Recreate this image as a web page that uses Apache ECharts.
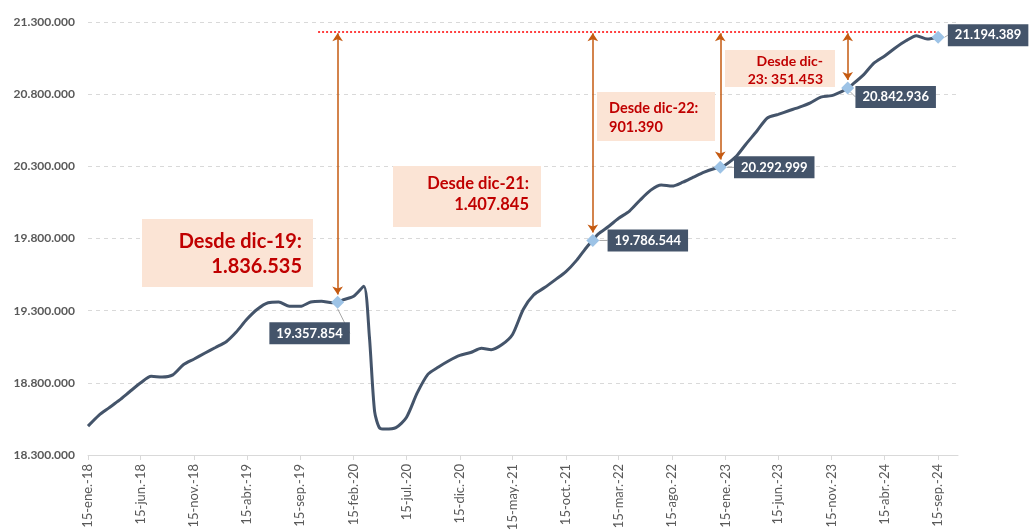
<!DOCTYPE html>
<html>
<head>
<meta charset="utf-8">
<script src="https://cdn.jsdelivr.net/npm/echarts@6/dist/echarts.min.js"></script>
<style>
  html, body { margin: 0; padding: 0; background: #fff; }
  #main { width: 1029px; height: 532px; }
</style>
</head>
<body>
<div id="main"></div>
<script>
const meses = ['ene.', 'feb.', 'mar.', 'abr.', 'may.', 'jun.', 'jul.', 'ago.', 'sep.', 'oct.', 'nov.', 'dic.'];

// etiquetas del eje X (una cada 5 meses)
const etiquetasX = ['15-ene.-18', '15-jun.-18', '15-nov.-18', '15-abr.-19', '15-sep.-19', '15-feb.-20',
  '15-jul.-20', '15-dic.-20', '15-may.-21', '15-oct.-21', '15-mar.-22', '15-ago.-22', '15-ene.-23',
  '15-jun.-23', '15-nov.-23', '15-abr.-24', '15-sep.-24'];

// afiliados el día 15 de cada mes, desde ene-18 hasta sep-24
const afiliados15 = [
  18500000, 18575000, 18625000, 18680000, 18740000, 18800000, 18845000, 18840000, 18855000, 18925000, 18965000, 19005000,
  19045000, 19085000, 19150000, 19240000, 19310000, 19355000, 19360000, 19330000, 19330000, 19360000, 19365000, 19355000,
  19375000, 19400000, 19470000, 18600000, 18480000, 18490000, 18560000, 18730000, 18860000, 18910000, 18955000, 18990000,
  19010000, 19040000, 19030000, 19065000, 19135000, 19310000, 19410000, 19460000, 19515000, 19570000, 19650000, 19745000,
  19830000, 19885000, 19940000, 19990000, 20065000, 20135000, 20170000, 20163000, 20190000, 20225000, 20260000, 20285000,
  20310000, 20370000, 20455000, 20545000, 20635000, 20660000, 20685000, 20710000, 20740000, 20780000, 20790000, 20820000,
  20870000, 20935000, 21015000, 21065000, 21120000, 21170000, 21205000, 21182000, 21194389
];

// último día de algunos meses [año, mes, valor]
const finDeMes = [
  [2019, 12, 19357854],
  [2020, 3, 19120000],
  [2020, 4, 18485000],
  [2021, 12, 19786544],
  [2022, 12, 20292999],
  [2023, 12, 20842936]
];

// puntos destacados [año, mes, día, valor]
const hitos = [
  [2019, 12, 31, 19357854],
  [2021, 12, 31, 19786544],
  [2022, 12, 31, 20292999],
  [2023, 12, 31, 20842936],
  [2024, 9, 15, 21194389]
];

const fmt = n => String(Math.round(n)).replace(/\B(?=(\d{3})+(?!\d))/g, '.');
const ms = (y, m, d) => new Date(y, m - 1, d).getTime();

const serie = afiliados15.map((v, i) => [ms(2018 + Math.floor(i / 12), i % 12 + 1, 15), v]);
finDeMes.forEach(([y, m, v]) => serie.push([ms(y, m + 1, 0), v]));
serie.sort((a, b) => a[0] - b[0]);

const ticksX = etiquetasX.map(s => {
  const p = s.split('-');
  return ms(2000 + Number(p[2]), meses.indexOf(p[1]) + 1, Number(p[0]));
});

const ultimo = hitos[hitos.length - 1];
const techo = 21235000;
const puntaFlecha = 21222000;
const separacion = 55000;

// desplazamiento de cada etiqueta de dato respecto al rombo
const desplaz = [[-28, 31], [55, 0], [54, 0], [48, 9], [50, -2]];

const chart = echarts.init(document.getElementById('main'));

const cajas = [
  { x: 142, y: 219, w: 171, h: 68, tx: 302, ty: 229, align: 'right', size: 20, lh: 25, i: 0, corte: false },
  { x: 393, y: 166, w: 148, h: 61, tx: 529, ty: 173, align: 'right', size: 16.5, lh: 21, i: 1, corte: false },
  { x: 597, y: 92, w: 118, h: 49, tx: 609, ty: 99, align: 'left', size: 14.5, lh: 19, i: 2, corte: false },
  { x: 725, y: 50, w: 110, h: 37, tx: 823, ty: 52, align: 'right', size: 14, lh: 18, i: 3, corte: true }
];

const graphic = [];
cajas.forEach(c => {
  const h = hitos[c.i];
  const etiqueta = 'dic-' + String(h[0]).slice(2);
  const dif = fmt(ultimo[3] - h[3]);
  const txt = c.corte ? 'Desde ' + etiqueta.slice(0, 4) + '\n' + etiqueta.slice(4) + ': ' + dif
                      : 'Desde ' + etiqueta + ':\n' + dif;
  graphic.push({
    type: 'rect', z: 1, shape: { x: c.x, y: c.y, width: c.w, height: c.h },
    style: { fill: '#FBE4D5' }, silent: true
  });
  graphic.push({
    type: 'text', z: 2, x: c.tx, y: c.ty, silent: true,
    style: {
      text: txt, align: c.align, verticalAlign: 'top', fill: '#C00000',
      font: 'bold ' + c.size + 'px Lato', lineHeight: c.lh
    }
  });
});

const rojo = { color: '#FF0000', type: [2, 2], width: 1.5, opacity: 1 };

chart.setOption({
  animation: false,
  grid: { left: 88, right: 71, top: 22, bottom: 77, outerBoundsMode: 'none' },
  xAxis: {
    type: 'value',
    min: ms(2018, 1, 15),
    max: ms(2024, 11, 11),
    axisLine: { lineStyle: { color: '#D9D9D9', width: 1 } },
    axisTick: { show: true, customValues: ticksX, length: 5, lineStyle: { color: '#D9D9D9' } },
    axisLabel: {
      customValues: ticksX, rotate: 90, margin: 9, color: '#595959',
      fontFamily: 'Lato', fontSize: 13,
      formatter: v => etiquetasX[ticksX.indexOf(v)] || ''
    },
    splitLine: { show: false }
  },
  yAxis: {
    type: 'value', min: 18300000, max: 21300000, interval: 500000,
    axisLine: { show: false }, axisTick: { show: false },
    axisLabel: { formatter: v => fmt(v), color: '#595959', fontFamily: 'Lato', fontSize: 12, fontWeight: 'bold', margin: 13 },
    splitLine: { lineStyle: { color: '#D9D9D9', type: [4, 4], width: 1 } }
  },
  graphic: graphic,
  series: [
    {
      name: 'Afiliados', type: 'line', data: serie, showSymbol: false, smooth: 0.25, z: 2,
      lineStyle: { color: '#44546A', width: 3 },
      markLine: {
        silent: true, symbol: 'none', label: { show: false },
        lineStyle: rojo,
        data: [[
          { coord: [ms(2019, 11, 5), techo], lineStyle: rojo },
          { coord: [ms(2024, 9, 8), techo], lineStyle: rojo }
        ]]
      }
    },
    {
      name: 'Hitos', type: 'scatter', z: 4,
      data: hitos.map(h => [ms(h[0], h[1], h[2]), h[3]]),
      symbol: 'diamond', symbolSize: 13,
      itemStyle: { color: '#9DC3E6', opacity: 1 },
      label: {
        show: true, position: 'inside', formatter: p => fmt(p.value[1]),
        backgroundColor: '#44546A', color: '#fff', fontFamily: 'Lato', fontWeight: 'bold', fontSize: 13,
        padding: [5, 7, 4, 7]
      },
      labelLayout: p => ({ dx: desplaz[p.dataIndex][0], dy: desplaz[p.dataIndex][1] }),
      labelLine: { show: true, lineStyle: { color: '#A6A6A6', width: 1 } },
      markLine: {
        silent: true, symbol: ['arrow', 'arrow'], symbolSize: 8, label: { show: false },
        lineStyle: { color: '#C55A11', width: 1.5, type: 'solid', opacity: 1 },
        data: hitos.slice(0, 4).map(h => [
          { coord: [ms(h[0], h[1], h[2]), puntaFlecha] },
          { coord: [ms(h[0], h[1], h[2]), h[3] + separacion] }
        ])
      }
    }
  ]
});
</script>
</body>
</html>
